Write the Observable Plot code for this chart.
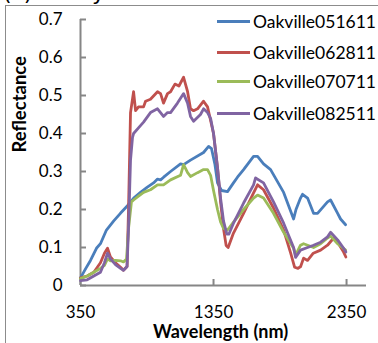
<!DOCTYPE html>
<html>
<head>
<meta charset="utf-8">
<script src="https://cdn.jsdelivr.net/npm/d3@7"></script>
<script src="https://cdn.jsdelivr.net/npm/@observablehq/plot@0.6"></script>
<style>
  html, body { margin: 0; padding: 0; background: #fff; }
  #wrap { position: relative; width: 378px; height: 343px; overflow: hidden; font-family: Lato, "Open Sans", sans-serif; }
  #frame { position: absolute; left: 5px; top: 5px; width: 400px; height: 400px; border-top: 1px solid #8c8c8c; border-left: 1px solid #8c8c8c; }
  #title { position: absolute; left: 3px; top: -20px; font-size: 22px; font-family: "DejaVu Sans", sans-serif; color: #000; white-space: nowrap; }
  #chart { position: absolute; left: 0; top: 0; }
  #legend { position: absolute; left: 217px; top: 9px; }
  .item { position: absolute; left: 0; height: 24px; display: flex; align-items: center; white-space: nowrap; }
  .sw { width: 33px; height: 3px; margin-right: 3px; }
  .lab { font-size: 17.5px; color: #000; }
</style>
</head>
<body>
<div id="wrap">
  <div id="frame"></div>
  <div id="title">(c) Yearly</div>
  <div id="chart"></div>
  <div id="legend"></div>
</div>
<script>
const seriesNames = ["Oakville051611", "Oakville062811", "Oakville070711", "Oakville082511"];
const seriesColors = ["#4a7ebb", "#c0504d", "#9bbb59", "#8064a2"];
const xTicks = [350, 1350, 2350];
const yTicks = [0, 0.1, 0.2, 0.3, 0.4, 0.5, 0.6, 0.7];

const wl051611 = [350, 390, 425, 470, 500, 545, 600, 650, 703, 750, 801, 850, 899, 929, 952, 975, 1027, 1102, 1125, 1177, 1275, 1313, 1335, 1360, 1380, 1410, 1455, 1500, 1530, 1576, 1651, 1681, 1726, 1779, 1877, 1952, 1970, 2004, 2019, 2057, 2102, 2132, 2207, 2230, 2283, 2305, 2343];
const r051611 = [0.02, 0.045, 0.066, 0.098, 0.11, 0.146, 0.17, 0.19, 0.21, 0.23, 0.245, 0.258, 0.27, 0.28, 0.278, 0.285, 0.30, 0.32, 0.318, 0.33, 0.35, 0.366, 0.36, 0.32, 0.27, 0.25, 0.247, 0.27, 0.285, 0.305, 0.34, 0.34, 0.32, 0.305, 0.245, 0.175, 0.2, 0.23, 0.24, 0.23, 0.19, 0.19, 0.22, 0.225, 0.19, 0.175, 0.16];

const wl062811 = [350, 400, 450, 500, 530, 553, 575, 613, 651, 673, 700, 711, 726, 749, 764, 786, 824, 839, 876, 929, 952, 974, 1004, 1027, 1060, 1090, 1125, 1155, 1177, 1200, 1230, 1275, 1305, 1350, 1380, 1403, 1425, 1445, 1460, 1500, 1576, 1651, 1681, 1726, 1801, 1877, 1930, 1960, 1985, 2005, 2027, 2057, 2100, 2155, 2207, 2253, 2283, 2328, 2345];
const r062811 = [0.02, 0.025, 0.035, 0.06, 0.085, 0.098, 0.075, 0.06, 0.048, 0.04, 0.05, 0.2, 0.455, 0.51, 0.46, 0.47, 0.47, 0.485, 0.49, 0.51, 0.505, 0.48, 0.505, 0.51, 0.53, 0.525, 0.548, 0.51, 0.465, 0.46, 0.465, 0.485, 0.47, 0.40, 0.31, 0.22, 0.15, 0.105, 0.1, 0.138, 0.19, 0.244, 0.265, 0.252, 0.204, 0.146, 0.085, 0.048, 0.045, 0.05, 0.072, 0.066, 0.085, 0.093, 0.106, 0.125, 0.114, 0.088, 0.075];

const wl070711 = [350, 400, 450, 500, 530, 553, 575, 613, 651, 673, 696, 711, 733, 749, 786, 824, 876, 929, 974, 1027, 1102, 1125, 1155, 1177, 1230, 1275, 1305, 1328, 1350, 1380, 1403, 1425, 1455, 1500, 1576, 1651, 1681, 1726, 1801, 1877, 1952, 1967, 2004, 2027, 2102, 2155, 2207, 2230, 2283, 2343];
const r070711 = [0.018, 0.025, 0.035, 0.045, 0.053, 0.07, 0.065, 0.066, 0.065, 0.062, 0.07, 0.15, 0.22, 0.225, 0.235, 0.245, 0.252, 0.265, 0.265, 0.278, 0.29, 0.318, 0.297, 0.287, 0.297, 0.305, 0.305, 0.29, 0.25, 0.2, 0.167, 0.15, 0.146, 0.167, 0.2, 0.23, 0.238, 0.23, 0.19, 0.14, 0.098, 0.08, 0.106, 0.11, 0.1, 0.11, 0.125, 0.13, 0.11, 0.093];

const wl082511 = [350, 400, 450, 500, 530, 553, 575, 613, 651, 673, 700, 711, 726, 741, 749, 786, 824, 876, 929, 974, 1004, 1027, 1079, 1125, 1155, 1177, 1200, 1252, 1275, 1305, 1328, 1350, 1380, 1403, 1425, 1450, 1465, 1500, 1576, 1651, 1666, 1726, 1801, 1877, 1952, 1967, 2004, 2057, 2102, 2155, 2207, 2230, 2283, 2328, 2345];
const r082511 = [0.013, 0.015, 0.025, 0.035, 0.06, 0.085, 0.07, 0.055, 0.045, 0.04, 0.05, 0.15, 0.33, 0.39, 0.40, 0.415, 0.43, 0.455, 0.465, 0.445, 0.455, 0.455, 0.48, 0.505, 0.48, 0.445, 0.432, 0.45, 0.465, 0.455, 0.44, 0.40, 0.31, 0.23, 0.17, 0.135, 0.135, 0.164, 0.217, 0.265, 0.283, 0.27, 0.22, 0.164, 0.1, 0.074, 0.093, 0.1, 0.106, 0.114, 0.128, 0.14, 0.12, 0.098, 0.088];

const wls = [wl051611, wl062811, wl070711, wl082511];
const rs = [r051611, r062811, r070711, r082511];
const rows = [];
seriesNames.forEach((name, i) => {
  wls[i].forEach((w, j) => rows.push({series: name, wl: w, r: rs[i][j]}));
});

const axisColor = "#868686";
const plot = Plot.plot({
  width: 378,
  height: 343,
  marginLeft: 80,
  marginRight: 12,
  marginTop: 19,
  marginBottom: 58,
  style: {fontFamily: "Lato, 'Open Sans', sans-serif", fontSize: "17px", color: "#000", background: "transparent"},
  x: {domain: [350, 2500], ticks: xTicks, label: null},
  y: {domain: [0, 0.7], ticks: yTicks, label: null},
  color: {domain: seriesNames, range: seriesColors},
  marks: [
    Plot.ruleX([350], {stroke: axisColor, strokeWidth: 2}),
    Plot.ruleY([0], {stroke: axisColor, strokeWidth: 2}),
    Plot.axisY({ticks: yTicks, tickSize: -6, tickPadding: 24, stroke: axisColor, strokeWidth: 2, tickFormat: d => d === 0 ? "0" : d.toFixed(1), fill: "#000", fontSize: 17, label: null}),
    Plot.axisX({ticks: xTicks, tickSize: -6, tickPadding: 26, stroke: axisColor, strokeWidth: 2, tickFormat: d => String(d), fill: "#000", fontSize: 17, label: null}),
    Plot.line(rows, {x: "wl", y: "r", z: "series", stroke: "series", strokeWidth: 2.8, curve: "linear"}),
    Plot.text(["Reflectance"], {frameAnchor: "left", dx: -60, rotate: -90, text: d => d, fontWeight: "bold", fontSize: 18.5, fill: "#000"}),
    Plot.text(["Wavelength (nm)"], {frameAnchor: "bottom", dy: 52, dx: -3, text: d => d, fontWeight: "bold", fontSize: 18, fill: "#000"})
  ]
});
document.getElementById("chart").appendChild(plot);

const legend = document.getElementById("legend");
const rowTops = [0, 31, 60, 92];
seriesNames.forEach((name, i) => {
  const item = document.createElement("div");
  item.className = "item";
  item.style.top = rowTops[i] + "px";
  item.innerHTML = `<div class="sw" style="background:${seriesColors[i]}"></div><span class="lab">${name}</span>`;
  legend.appendChild(item);
});
</script>
</body>
</html>
